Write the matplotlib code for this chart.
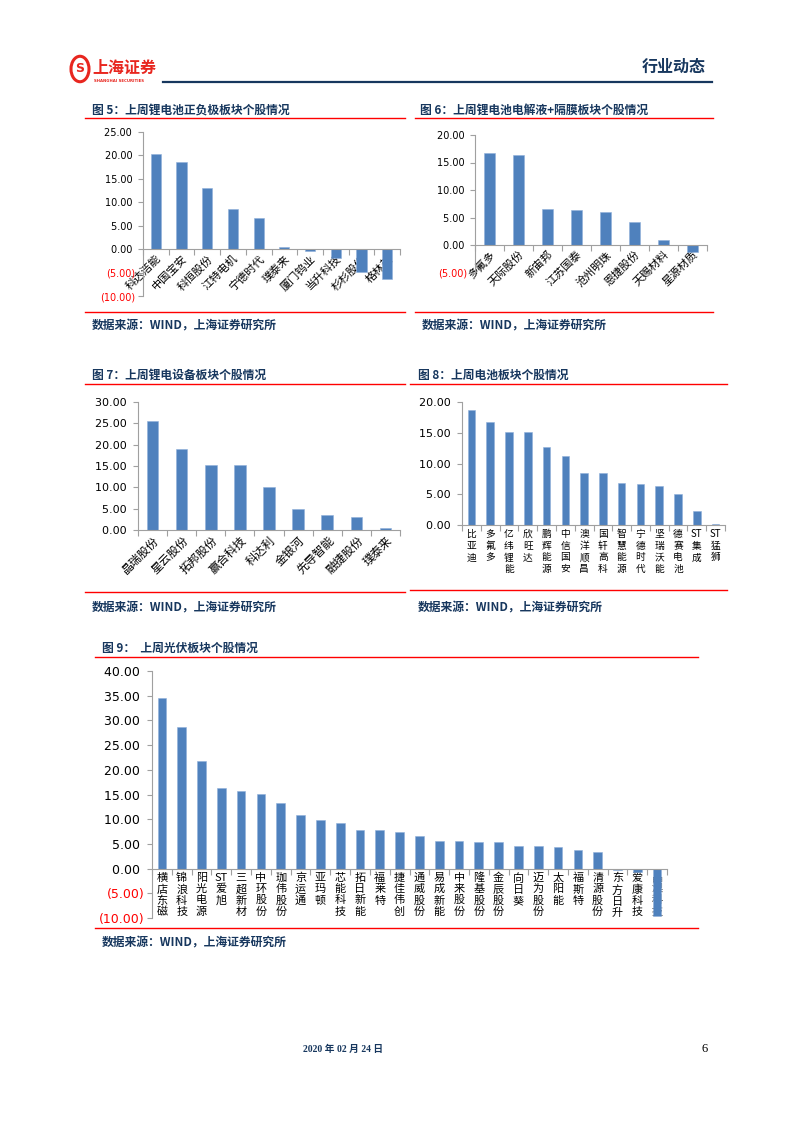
import numpy as np
import matplotlib
matplotlib.use("Agg")
import matplotlib.pyplot as plt
from matplotlib.lines import Line2D
from matplotlib.patches import Circle

plt.rcParams['font.family'] = ['Noto Sans CJK SC', 'DejaVu Sans']

# ---- data -------------------------------------------------------------
names5 = ['科达洁能', '中国宝安', '科恒股份', '江特电机', '宁德时代',
          '璞泰来', '厦门钨业', '当升科技', '杉杉股份', '格林美']
vals5 = [20.4, 18.6, 13.0, 8.6, 6.7, 0.4, -0.5, -1.9, -4.9, -6.3]

names6 = ['多氟多', '天际股份', '新宙邦', '江苏国泰', '沧州明珠',
          '恩捷股份', '天赐材料', '星源材质']
vals6 = [16.7, 16.3, 6.6, 6.3, 6.0, 4.2, 1.0, -1.3]

names7 = ['晶瑞股份', '星云股份', '拓邦股份', '赢合科技', '科达利',
          '金银河', '先导智能', '融捷股份', '璞泰来']
vals7 = [25.6, 18.9, 15.2, 15.2, 10.0, 5.0, 3.6, 3.1, 0.4]

names8 = ['比亚迪', '多氟多', '亿纬锂能', '欣旺达', '鹏辉能源', '中信国安',
          '澳洋顺昌', '国轩高科', '智慧能源', '宁德时代', '坚瑞沃能',
          '德赛电池', 'ST集成', 'ST猛狮']
vals8 = [18.7, 16.8, 15.2, 15.1, 12.7, 11.2, 8.4, 8.4, 6.9, 6.6, 6.4,
         5.0, 2.2, 0.2]

names9 = ['横店东磁', '锦浪科技', '阳光电源', 'ST爱旭', '三超新材', '中环股份',
          '珈伟股份', '京运通', '亚玛顿', '芯能科技', '拓日新能', '福莱特',
          '捷佳伟创', '通威股份', '易成新能', '中来股份', '隆基股份', '金辰股份',
          '向日葵', '迈为股份', '太阳能', '福斯特', '清源股份', '东方日升',
          '爱康科技', '晶澳科技']
vals9 = [34.5, 28.6, 21.8, 16.3, 15.8, 15.1, 13.2, 10.8, 9.8, 9.3, 7.9, 7.8,
         7.5, 6.6, 5.5, 5.5, 5.4, 5.3, 4.5, 4.5, 4.3, 3.8, 3.4, -0.3,
         -0.6, -9.6]

W, H = 793, 1122
NAVY = '#17375E'
RED = '#FF0000'
BLUE = '#4F81BD'
GRAY = '#A0A0A0'

fig = plt.figure(figsize=(W / 100, H / 100), dpi=100)


def add_ax(x0, y0, x1, y1):
    return fig.add_axes([x0 / W, 1 - y1 / H, (x1 - x0) / W, (y1 - y0) / H])


def hline(x0, x1, y, color, lw):
    fig.add_artist(Line2D([x0 / W, x1 / W], [1 - y / H, 1 - y / H],
                          transform=fig.transFigure, color=color, lw=lw))


def ftext(x, y, s, **kw):
    fig.text(x / W, 1 - y / H, s, **kw)


def stacked(name):
    # vertical (stacked) label, keep "ST" together
    if name.startswith('ST'):
        return '\n'.join(['ST'] + list(name[2:]))
    return '\n'.join(list(name))


def bar_chart(ax, names, values, ymin, ymax, step, tick_fs, label_fs,
              vertical=False, width=0.4, spacing=1.15):
    n = len(names)
    x = np.arange(n)
    ax.bar(x, values, width=width, color=BLUE, edgecolor='#8FB0DA',
           linewidth=0.4, zorder=2)
    ax.set_xlim(-0.5, n - 0.5)
    ax.set_ylim(ymin, ymax)
    ax.patch.set_alpha(0)

    yt = np.arange(ymin, ymax + step / 2, step)
    ax.set_yticks(yt)
    ylabels = [f"{v:.2f} " if v >= 0 else f"({-v:.2f})" for v in yt]
    ax.set_yticklabels(ylabels, fontsize=tick_fs, family='DejaVu Sans')
    for lab, v in zip(ax.get_yticklabels(), yt):
        lab.set_color(RED if v < 0 else 'black')
    ax.tick_params(axis='y', direction='out', length=3.5, color=GRAY,
                   width=0.8, pad=2)

    for s in ['top', 'right']:
        ax.spines[s].set_visible(False)
    ax.spines['left'].set_color(GRAY)
    ax.spines['bottom'].set_color(GRAY)
    ax.spines['left'].set_linewidth(0.8)
    ax.spines['bottom'].set_linewidth(0.8)
    ax.spines['bottom'].set_position(('data', 0))

    ax.set_xticks(x)
    if vertical:
        ax.set_xticklabels([stacked(s) for s in names], fontsize=label_fs,
                           linespacing=spacing, va='top')
    else:
        ax.set_xticklabels(names, fontsize=label_fs, rotation=45,
                           ha='right', va='top', rotation_mode='anchor')
    ax.set_xticks(np.arange(-0.5, n, 1.0), minor=True)
    ax.tick_params(axis='x', which='major', length=0, pad=3)
    ax.tick_params(axis='x', which='minor', direction='out', length=4,
                   color=GRAY, width=0.8)


def block_title(x, y, s, size=8.5):
    ftext(x, y, s, fontsize=size, fontweight='bold', color=NAVY,
          va='center', ha='left')


def source(x, y):
    ftext(x, y, '数据来源：WIND，上海证券研究所', fontsize=8.5,
          fontweight='bold', style='italic', color=NAVY, va='center')


# ---- header -------------------------------------------------------------
logo = Circle((80 / W, 1 - 69 / H), 9 / W, transform=fig.transFigure,
              fill=False, ec='#E8261F', lw=2.2)
fig.add_artist(logo)
ftext(80, 69, 'S', fontsize=9, fontweight='bold', color='#E8261F',
      ha='center', va='center', family='DejaVu Sans')
ftext(92, 68, '上海证券', fontsize=11.5, fontweight='bold', color='#E8261F',
      va='center')
ftext(94, 81, 'SHANGHAI SECURITIES', fontsize=2.8, fontweight='bold',
      color='#E8261F', va='center', family='DejaVu Sans')
hline(163, 712, 82, NAVY, 1.6)
ftext(706, 67, '行业动态', fontsize=11.5, fontweight='bold', color=NAVY,
      ha='right', va='center')

# ---- chart 5 --------------------------------------------------------------
block_title(92, 110, '图 5：上周锂电池正负极板块个股情况')
hline(85, 405, 118, RED, 1.0)
ax5 = add_ax(143, 132, 400, 296)
bar_chart(ax5, names5, vals5, -10, 25, 5, 7, 8)
hline(85, 405, 312, RED, 1.0)
source(92, 326)

# ---- chart 6 --------------------------------------------------------------
block_title(420, 110, '图 6：上周锂电池电解液+隔膜板块个股情况')
hline(415, 713, 118, RED, 1.0)
ax6 = add_ax(475, 135, 707, 272.5)
bar_chart(ax6, names6, vals6, -5, 20, 5, 7, 8)
hline(415, 713, 312, RED, 1.0)
source(422, 326)

# ---- chart 7 --------------------------------------------------------------
block_title(92, 375, '图 7：上周锂电设备板块个股情况')
hline(85, 405, 384, RED, 1.0)
ax7 = add_ax(138, 402, 400, 530)
bar_chart(ax7, names7, vals7, 0, 30, 5, 8, 8.5)
hline(85, 405, 592, RED, 1.0)
source(92, 608)

# ---- chart 8 --------------------------------------------------------------
block_title(418, 375, '图 8：上周电池板块个股情况')
hline(410, 727, 384, RED, 1.0)
ax8 = add_ax(462, 402, 725, 525)
bar_chart(ax8, names8, vals8, 0, 20, 5, 8, 7, vertical=True, spacing=1.2)
hline(410, 727, 590, RED, 1.0)
source(418, 608)

# ---- chart 9 --------------------------------------------------------------
block_title(102, 648, '图 9：  上周光伏板块个股情况')
hline(95, 698, 657, RED, 1.0)
ax9 = add_ax(152, 671, 667, 918)
bar_chart(ax9, names9, vals9, -10, 40, 5, 9, 8, vertical=True,
          width=0.44, spacing=1.15)
hline(95, 698, 928, RED, 1.0)
source(102, 943)

# ---- footer -------------------------------------------------------------
ftext(343, 1049, '2020 年 02 月 24 日', fontsize=7, fontweight='bold',
      color=NAVY, ha='center', va='center',
      family=['Liberation Serif', 'Noto Sans CJK SC'])
ftext(705, 1049, '6', fontsize=9, color='black', ha='center', va='center',
      family='Liberation Serif')

fig.savefig('out.png', dpi=100)
